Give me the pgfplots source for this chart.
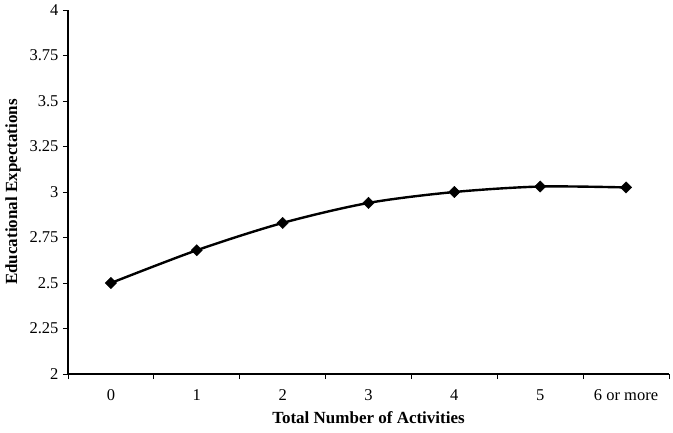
\documentclass[border=0pt]{standalone}
\usepackage{fontspec}
\setmainfont{Liberation Serif}
\usepackage{pgfplots}
\pgfplotsset{compat=1.18}
\begin{document}
\begin{tikzpicture}
\path[use as bounding box] (-68pt,-58pt) rectangle (605pt,374pt);
\begin{axis}[
  at={(0pt,0pt)}, anchor=south west,
  scale only axis, width=601pt, height=364pt,
  xmin=-0.5, xmax=6.5, ymin=2, ymax=4,
  axis x line=bottom, axis y line=left,
  axis line style={-, line width=1.1pt},
  tick align=outside, major tick length=5pt,
  tick style={black, line width=0.8pt},
  xtick={-0.5,0.5,...,6.5},
  x tick label as interval,
  xticklabels={0,1,2,3,4,5,6 or more},
  ytick={2,2.25,...,4},
  yticklabels={2,2.25,2.5,2.75,3,3.25,3.5,3.75,4},
  /pgf/number format/assume math mode=true,
  tick label style={font=\fontsize{16.5}{18}\selectfont},
  xticklabel style={yshift=-7pt},
  yticklabel style={xshift=-1pt},
  xlabel={\textbf{Total Number of Activities}},
  ylabel={\textbf{Educational Expectations}},
  label style={font=\fontsize{17}{19}\selectfont},
  xlabel style={yshift=-4pt},
  ylabel style={yshift=2pt},
  clip=false,
]
\addplot[black, line width=2.4pt, smooth, tension=0.5, mark=square*, mark size=4pt, mark options={solid, fill=black, line width=0.4pt, rotate=45}]
  coordinates {(0,2.50) (1,2.68) (2,2.83) (3,2.94) (4,3.00) (5,3.03) (6,3.025)};
\end{axis}
\end{tikzpicture}
\end{document}
